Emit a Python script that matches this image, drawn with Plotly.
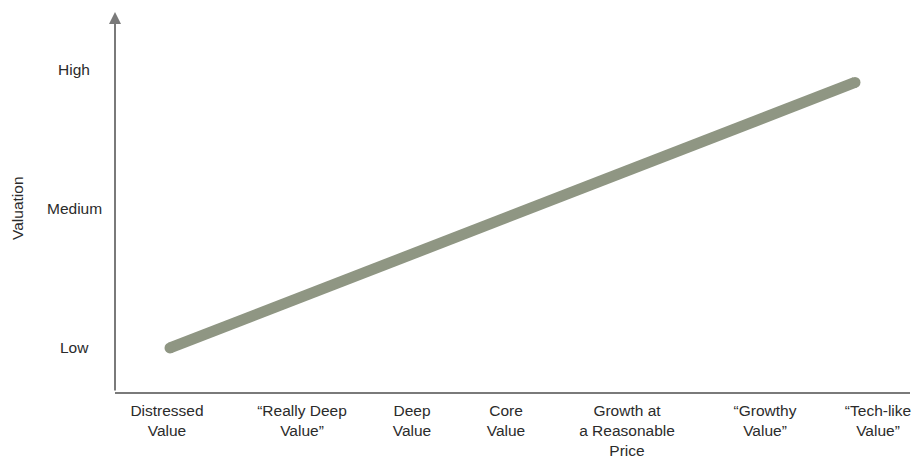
import plotly.graph_objects as go

# Data
categories = ["Distressed<br>Value", "\u201cReally Deep<br>Value\u201d", "Deep<br>Value", "Core<br>Value",
              "Growth at<br>a Reasonable<br>Price", "\u201cGrowthy<br>Value\u201d", "\u201cTech-like<br>Value\u201d"]
category_pos = [52, 187, 297, 391, 512, 650, 763]
valuation_levels = ["Low", "Medium", "High"]
valuation_vals = [1, 2, 3]
line_x = [55, 740]
line_y = [1.0, 2.91]

LINE_COLOR = "#8f9683"
AXIS_COLOR = "#7a7a7a"
TEXT_COLOR = "#2b2b2b"
FONT = "Liberation Sans, Arial, sans-serif"
FS = 15.5

fig = go.Figure()
fig.add_trace(go.Scatter(x=line_x, y=line_y, mode="lines+markers",
                         line=dict(color=LINE_COLOR, width=11),
                         marker=dict(color=LINE_COLOR, size=11),
                         hoverinfo="skip", showlegend=False))

annotations = []
for lab, v in zip(valuation_levels, valuation_vals):
    annotations.append(dict(x=-41/795, xref="paper", y=v, yref="y", text=lab, showarrow=False,
                            xanchor="center", yanchor="middle",
                            font=dict(size=FS, color=TEXT_COLOR, family=FONT)))
annotations.append(dict(x=-97/795, xref="paper", y=2.0, yref="y", text="Valuation", showarrow=False,
                        textangle=-90, xanchor="center", yanchor="middle",
                        font=dict(size=FS, color=TEXT_COLOR, family=FONT)))
# vertical axis with arrow
annotations.append(dict(x=0, y=3.417, xref="x", yref="y", ax=0, ay=0.683, axref="x", ayref="y",
                        text="", showarrow=True, arrowhead=2, arrowsize=1.2, arrowwidth=2,
                        arrowcolor=AXIS_COLOR, standoff=0, startstandoff=0))

fig.update_layout(
    width=922, height=459,
    margin=dict(l=115, r=12, t=12, b=67),
    paper_bgcolor="white", plot_bgcolor="white",
    xaxis=dict(range=[0, 795], tickvals=category_pos, ticktext=categories, automargin=False,
               showgrid=False, zeroline=False, showline=True, linecolor=AXIS_COLOR, linewidth=2,
               ticks="", tickfont=dict(size=FS, color=TEXT_COLOR, family=FONT), ticklabelstandoff=3),
    yaxis=dict(range=[0.683, 3.417], showgrid=False, zeroline=False, showline=False,
               showticklabels=False, ticks="", automargin=False),
    annotations=annotations,
    font=dict(family=FONT),
)

fig.write_html("out.html")
